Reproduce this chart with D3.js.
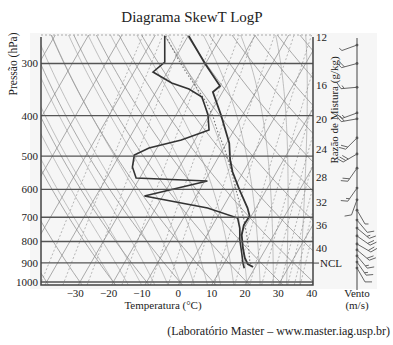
<!DOCTYPE html>
<html><head><meta charset="utf-8">
<script src="https://cdn.jsdelivr.net/npm/d3@7"></script>
<style>
body{margin:0;background:#fff;}
svg{display:block;}
text{font-family:"Liberation Serif","Times New Roman",serif;fill:#222;}
</style>
</head><body>
<svg id="c" width="393" height="345"></svg>
<script>
// ---------- data ----------
const tempP = [257.8,300,339.6,351.1,398.5,465,510.6,545.5,602.4,665.2,695.2,730.5,771.8,829.2,876.1,905.6,920.7];
const tempT = [-39.8,-30.2,-21.8,-22.9,-16.5,-9.2,-6.0,-3.2,2.0,7.5,9.5,9.3,10.4,13.0,15.3,17.2,19.3];
const dewP = [257.8,297.6,314.4,334.1,345.3,360.9,398.5,432.8,457.3,478,496.7,530.7,563.8,573.2,622.6,665.2,702.8,742.7,793.4,852.3,900.6,927.3];
const dewT = [-47.0,-42.5,-44.3,-36.8,-30.6,-25.3,-20.4,-17.5,-24.1,-32.4,-35.6,-34.1,-31.1,-9.2,-25.5,-4.5,6.25,8.6,10.7,13.5,15.6,16.9];
const parcelP = [920.7,895.7,838.4,771.8,702.8,619.2,545.5,478,432.8,402.9,370.9,343.4,319.7,297.6,257.8];
const parcelT = [19.3,17.5,15.1,11.9,8.05,2.2,-3.5,-9.8,-15.1,-18.5,-23.2,-28.4,-33.3,-38.0,-46.7];
const pressureTicks = [300,400,500,600,700,800,900,1000];
const tempTicks = [-30,-20,-10,0,10,20,30,40];
const isotherms = d3.range(-100,50,10);
const dryAdiabats = d3.range(-50,140,10);
const moistAdiabats = d3.range(-20,41,4);
const mixRatios = [0.1,0.2,0.4,1,2,3,5,8,12,16,20,24,28,32,36,40];
const mixLabels = [12,16,20,24,28,32,36,40];
const nclP = 901;
const windP   = [271,300,342,394,407,452,494,534,596,636,673,711,743,776,811,838,866,896,926];
const windDir = [250,255,265,250,260,225,240,215,215,200,150,140,130,125,120,130,140,145,150];
const windSpd = [3,10,8,8,12,10,15,10,8,5,3,5,8,10,12,10,8,8,5];

// ---------- layout ----------
const L=41, R=313, T0=35, B=285;
const pTop=256.4, pBot=1016.7, skew=0.575;
const svg=d3.select("#c");
const y=d3.scaleLog().domain([pBot,pTop]).range([B,T0]);
const x=d3.scaleLinear().domain([-41.17,40.4]).range([L,R]);
const X=(t,p)=>x(t)+skew*(B-y(p));

// background
svg.append("rect").attr("x",30).attr("y",33).attr("width",347).attr("height",256).attr("fill","#f6f6f6");

svg.append("clipPath").attr("id","clip").append("rect").attr("x",L).attr("y",T0).attr("width",R-L).attr("height",B-T0);
const g=svg.append("g").attr("clip-path","url(#clip)");

// physics helpers for reference lines
const es=t=>6.112*Math.exp(17.67*t/(t+243.5));
const rs=(t,p)=>{const e=es(t);return 0.622*e/(p-e);};
function moistLapse(t,p){const Tk=t+273.15,r=rs(t,p),Rd=287.04,cp=1005.7,Lv=2.501e6,eps=0.622;
  return (Rd*Tk+Lv*r)/p/(cp+Lv*Lv*r*eps/(Rd*Tk*Tk));}
const logP=d3.range(0,41).map(i=>Math.exp(Math.log(pBot)+(Math.log(pTop)-Math.log(pBot))*i/40));
const line=d3.line().x(d=>X(d[1],d[0])).y(d=>y(d[0]));

// isotherms
isotherms.forEach(t=>g.append("path").attr("d",line([[pBot,t],[pTop,t]])).attr("fill","none").attr("stroke","#888").attr("stroke-width",0.7));
// dry adiabats
dryAdiabats.forEach(th=>{const pts=logP.map(p=>[p,(th+273.15)*Math.pow(p/1000,0.2857)-273.15]);
  g.append("path").attr("d",line(pts)).attr("fill","none").attr("stroke","#888").attr("stroke-width",0.7);});
// moist adiabats
moistAdiabats.forEach(tw=>{let t=tw,p=1000;const dp=5;
  const up=[[p,t]];while(p>pTop-5){const k1=moistLapse(t,p);const k2=moistLapse(t-k1*dp/2,p-dp/2);t-=k2*dp;p-=dp;up.push([p,t]);}
  t=tw;p=1000;const dn=[];while(p<pBot+5){const k1=moistLapse(t,p);const k2=moistLapse(t+k1*dp/2,p+dp/2);t+=k2*dp;p+=dp;dn.push([p,t]);}
  const all=dn.reverse().concat(up);
  g.append("path").attr("d",line(all)).attr("fill","none").attr("stroke","#999").attr("stroke-width",0.6);});
// mixing ratio lines
const tdw=(w,p)=>{const e=w*p/(622+w);const l=Math.log(e/6.112);return 243.5*l/(17.67-l);};
mixRatios.forEach(w=>{const pts=logP.map(p=>[p,tdw(w,p)]);
  g.append("path").attr("d",line(pts)).attr("fill","none").attr("stroke","#888").attr("stroke-width",0.6).attr("stroke-dasharray","2,2");});

// pressure lines
pressureTicks.forEach(p=>svg.append("line").attr("x1",L).attr("x2",R).attr("y1",y(p)).attr("y2",y(p)).attr("stroke","#555").attr("stroke-width",1.3));

// parcel, dewpoint, temperature
const prof=d3.line().x(d=>X(d.t,d.p)).y(d=>y(d.p));
const mk=(P,Tt)=>P.map((p,i)=>({p:p,t:Tt[i]}));
g.append("path").attr("d",prof(mk(parcelP,parcelT))).attr("fill","none").attr("stroke","#777").attr("stroke-width",1.1).attr("stroke-dasharray","1.5,2");
g.append("path").attr("d",prof(mk(dewP,dewT))).attr("fill","none").attr("stroke","#333").attr("stroke-width",1.6);
g.append("path").attr("d",prof(mk(tempP,tempT))).attr("fill","none").attr("stroke","#333").attr("stroke-width",1.8);

// frame
svg.append("line").attr("x1",L).attr("x2",R).attr("y1",T0).attr("y2",T0).attr("stroke","#aaa").attr("stroke-width",1).attr("stroke-dasharray","2,2");
svg.append("path").attr("d",`M${L},${T0+2}V${B}H${R}V${T0+2}`).attr("fill","none").attr("stroke","#444").attr("stroke-width",1.5);

// y labels
pressureTicks.forEach(p=>svg.append("text").attr("x",38).attr("y",y(p)).attr("dy","0.35em").attr("text-anchor","end").attr("font-size",11).text(p));
svg.append("text").attr("transform","translate(17,64) rotate(-90)").attr("text-anchor","middle").attr("font-size",11.5).text("Pressão (hPa)");
// x labels
tempTicks.forEach(t=>svg.append("text").attr("x",x(t)-(t<0?3:0)).attr("y",297).attr("text-anchor","middle").attr("font-size",11).text(t<0?"\u2212"+Math.abs(t):t));
svg.append("text").attr("x",163).attr("y",309).attr("text-anchor","middle").attr("font-size",11).text("Temperatura (°C)");

// mixing ratio labels: placed below the point where each line leaves the right border;
// a line leaving through the top is labelled at the top corner
mixLabels.forEach(w=>{let lo=pTop,hi=pBot;
  for(let i=0;i<50;i++){const m=Math.sqrt(lo*hi);if(X(tdw(w,m),m)>R)lo=m;else hi=m;}
  const cy=y(Math.sqrt(lo*hi));
  const yy=cy<=T0+0.5?41:cy+18.5;
  svg.append("text").attr("x",316).attr("y",yy).attr("font-size",11).text(w);});
svg.append("text").attr("transform","translate(338,110) rotate(-90)").attr("text-anchor","middle").attr("font-size",11).text("Razão de Mistura (g/kg)");
// NCL
svg.append("line").attr("x1",R).attr("x2",319).attr("y1",y(nclP)).attr("y2",y(nclP)).attr("stroke","#444");
svg.append("text").attr("x",320).attr("y",y(nclP)).attr("dy","0.35em").attr("font-size",11).text("NCL");

// winds
const wx=357;
svg.append("line").attr("x1",wx).attr("x2",wx).attr("y1",38).attr("y2",290).attr("stroke","#444").attr("stroke-width",1);
windP.forEach((p,i)=>{const yy=y(p),rad=windDir[i]*Math.PI/180,ux=Math.sin(rad),uy=-Math.cos(rad),Ls=16;
  const x1=wx+Ls*ux,y1=yy+Ls*uy;
  const sg=ux>0?-1:1, px=-uy*sg, py=ux*sg;
  let d=`M${wx},${yy}L${x1},${y1}`;
  let s=windSpd[i],k=0;
  while(s>=5){const bx=x1-k*3*ux,by=y1-k*3*uy;d+=`M${bx},${by}l${7*(0.87*px+0.5*ux)},${7*(0.87*py+0.5*uy)}`;s-=5;k++;}
  if(s>=2.5){const bx=x1-k*3*ux,by=y1-k*3*uy;d+=`M${bx},${by}l${3.5*(0.87*px+0.5*ux)},${3.5*(0.87*py+0.5*uy)}`;}
  svg.append("path").attr("d",d).attr("fill","none").attr("stroke","#555").attr("stroke-width",0.9);
  svg.append("circle").attr("cx",wx).attr("cy",yy).attr("r",1.4).attr("fill","#555");});
svg.append("text").attr("x",357).attr("y",297).attr("text-anchor","middle").attr("font-size",11).text("Vento");
svg.append("text").attr("x",357).attr("y",309).attr("text-anchor","middle").attr("font-size",11).text("(m/s)");

// titles
svg.append("text").attr("x",192).attr("y",22).attr("text-anchor","middle").attr("font-size",15).text("Diagrama SkewT LogP");
svg.append("text").attr("x",390).attr("y",335).attr("text-anchor","end").attr("font-size",12).text("(Laboratório Master – www.master.iag.usp.br)");
</script>
</body></html>
